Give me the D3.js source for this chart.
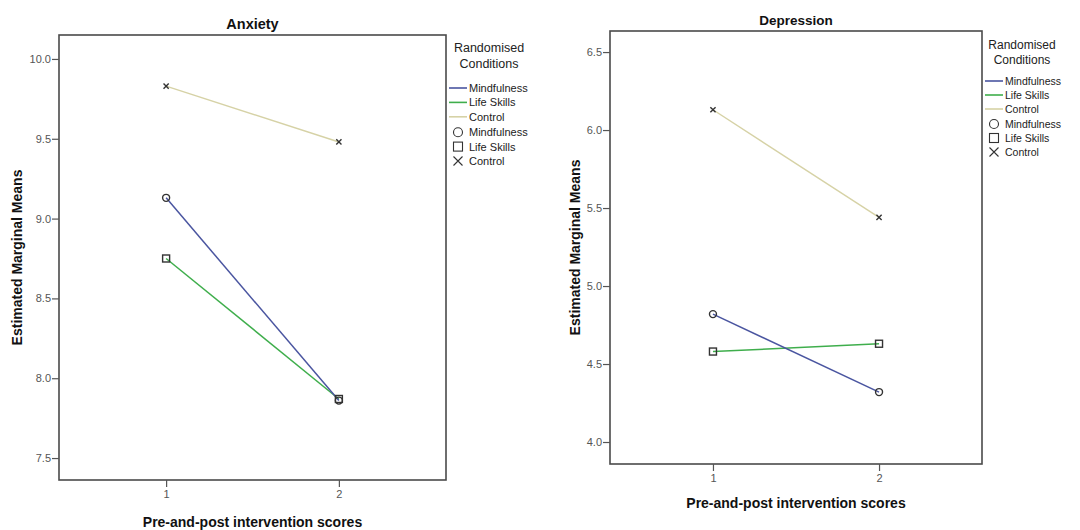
<!DOCTYPE html>
<html>
<head>
<meta charset="utf-8">
<script src="https://cdn.jsdelivr.net/npm/d3@7/dist/d3.min.js"></script>
<style>
html,body{margin:0;padding:0;background:#fff;}
svg{display:block;font-family:"Liberation Sans",Arial,sans-serif;}
</style>
</head>
<body>
<svg id="chart" width="1080" height="530"></svg>
<script>
// ---- data ----
const conditions = ["Mindfulness", "Life Skills", "Control"];
const timePoints = [1, 2];
const anxietyMindfulness = [9.13, 7.86];
const anxietyLifeSkills = [8.75, 7.87];
const anxietyControl = [9.83, 9.48];
const depressionMindfulness = [4.82, 4.32];
const depressionLifeSkills = [4.58, 4.63];
const depressionControl = [6.13, 5.44];
const anxietyTicks = [7.5, 8.0, 8.5, 9.0, 9.5, 10.0];
const depressionTicks = [4.0, 4.5, 5.0, 5.5, 6.0, 6.5];
const xTickLabels = ["1", "2"];
const legendTitle = ["Randomised", "Conditions"];

// ---- styles ----
const lineColors = {"Mindfulness": "#4a55a0", "Life Skills": "#3fae4c", "Control": "#d6d2a6"};
const markerShapes = {"Mindfulness": "circle", "Life Skills": "square", "Control": "cross"};

const svg = d3.select("#chart");

function drawMarker(g, shape, cx, cy, s, color, sw) {
  if (shape === "circle") {
    g.append("circle").attr("cx", cx).attr("cy", cy).attr("r", s)
      .attr("fill", "none").attr("stroke", color).attr("stroke-width", sw);
  } else if (shape === "square") {
    g.append("rect").attr("x", cx - s).attr("y", cy - s).attr("width", 2 * s).attr("height", 2 * s)
      .attr("fill", "none").attr("stroke", color).attr("stroke-width", sw);
  } else {
    g.append("path").attr("d", `M${cx - s},${cy - s}L${cx + s},${cy + s}M${cx - s},${cy + s}L${cx + s},${cy - s}`)
      .attr("fill", "none").attr("stroke", color).attr("stroke-width", sw);
  }
}

function panel(cfg) {
  const g = svg.append("g");
  const x = d3.scaleLinear().domain([0.38, 2.62]).range([cfg.left, cfg.right]);
  const y = d3.scaleLinear().domain(cfg.yDomain).range([cfg.bottom, cfg.top]);

  // frame
  g.append("rect").attr("x", cfg.left).attr("y", cfg.top)
    .attr("width", cfg.right - cfg.left).attr("height", cfg.bottom - cfg.top)
    .attr("fill", "#fff").attr("stroke", "#4a4a4a").attr("stroke-width", 1.6);

  // y axis
  const ya = g.append("g").attr("transform", `translate(${cfg.left},0)`)
    .call(d3.axisLeft(y).tickValues(cfg.ticks).tickFormat(d3.format(".1f")).tickSize(7).tickPadding(1));
  ya.select(".domain").remove();
  ya.selectAll(".tick line").attr("stroke", "#555").attr("stroke-width", 1.2);
  ya.selectAll(".tick text").attr("fill", "#555").style("font-size", cfg.tickFont + "px")
    .style("font-family", "'Liberation Sans',Arial,sans-serif");

  // x axis
  const xa = g.append("g").attr("transform", `translate(0,${cfg.bottom})`)
    .call(d3.axisBottom(x).tickValues(timePoints).tickFormat((d, i) => xTickLabels[i]).tickSize(7).tickPadding(3));
  xa.select(".domain").remove();
  xa.selectAll(".tick line").attr("stroke", "#555").attr("stroke-width", 1.2);
  xa.selectAll(".tick text").attr("fill", "#555").style("font-size", cfg.tickFont + "px")
    .style("font-family", "'Liberation Sans',Arial,sans-serif");

  // title
  g.append("text").attr("x", (cfg.left + cfg.right) / 2).attr("y", cfg.titleY)
    .attr("text-anchor", "middle").attr("font-weight", "bold").attr("font-size", cfg.titleFont)
    .attr("fill", "#111").text(cfg.title);

  // axis titles
  g.append("text").attr("x", (cfg.left + cfg.right) / 2).attr("y", cfg.xTitleY)
    .attr("text-anchor", "middle").attr("font-weight", "bold").attr("font-size", 14)
    .attr("fill", "#111").text("Pre-and-post intervention scores");
  g.append("text").attr("transform", `translate(${cfg.yTitleX},${(cfg.top + cfg.bottom) / 2}) rotate(-90)`)
    .attr("text-anchor", "middle").attr("font-weight", "bold").attr("font-size", 14)
    .attr("fill", "#111").text("Estimated Marginal Means");

  // lines
  const line = d3.line().x((d, i) => x(timePoints[i])).y(d => y(d));
  const order = ["Control", "Life Skills", "Mindfulness"];
  order.forEach(c => {
    g.append("path").datum(cfg.series[c]).attr("d", line)
      .attr("fill", "none").attr("stroke", lineColors[c]).attr("stroke-width", c === "Control" ? 1.4 : 1.5);
  });
  order.forEach(c => {
    cfg.series[c].forEach((v, i) => {
      drawMarker(g, markerShapes[c], x(timePoints[i]), y(v), markerShapes[c] === "cross" ? 2.6 : 3.5, "#333", 1.4);
    });
  });

  // legend
  const lg = g.append("g");
  legendTitle.forEach((t, i) => {
    lg.append("text").attr("x", cfg.legX + cfg.legTitleDx).attr("y", cfg.legY + i * cfg.legTitleStep)
      .attr("text-anchor", "middle").attr("font-size", cfg.legTitleFont).attr("fill", "#222").text(t);
  });
  conditions.forEach((c, i) => {
    const yy = cfg.legItemY + i * cfg.legStep;
    lg.append("line").attr("x1", cfg.legX).attr("x2", cfg.legX + 18).attr("y1", yy).attr("y2", yy)
      .attr("stroke", lineColors[c]).attr("stroke-width", 1.6);
    lg.append("text").attr("x", cfg.legX + 20).attr("y", yy + 4).attr("font-size", cfg.legFont)
      .attr("fill", "#222").text(c);
  });
  conditions.forEach((c, i) => {
    const yy = cfg.legItemY + (i + 3) * cfg.legStep + 1;
    drawMarker(lg, markerShapes[c], cfg.legX + 9, yy, markerShapes[c] === "cross" ? [4.5, 3.5][0] : 4.5, "#333", 1.1);
    lg.append("text").attr("x", cfg.legX + 20).attr("y", yy + 4).attr("font-size", cfg.legFont)
      .attr("fill", "#222").text(c);
  });
}

panel({
  title: "Anxiety", titleY: 29, titleFont: 14.5,
  left: 59, right: 446, top: 35, bottom: 480,
  yDomain: [7.3625, 10.15], ticks: anxietyTicks, tickFont: 11,
  xTitleY: 527, yTitleX: 22,
  series: {"Mindfulness": anxietyMindfulness, "Life Skills": anxietyLifeSkills, "Control": anxietyControl},
  legX: 449, legY: 52, legTitleDx: 40, legTitleStep: 16, legTitleFont: 12.5,
  legItemY: 88, legStep: 14.4, legFont: 11
});

panel({
  title: "Depression", titleY: 25, titleFont: 13.5,
  left: 610, right: 982, top: 31, bottom: 464,
  yDomain: [3.859, 6.635], ticks: depressionTicks, tickFont: 11,
  xTitleY: 508, yTitleX: 580,
  series: {"Mindfulness": depressionMindfulness, "Life Skills": depressionLifeSkills, "Control": depressionControl},
  legX: 985, legY: 49, legTitleDx: 37, legTitleStep: 15, legTitleFont: 12,
  legItemY: 81, legStep: 14, legFont: 10.5
});
</script>
</body>
</html>
